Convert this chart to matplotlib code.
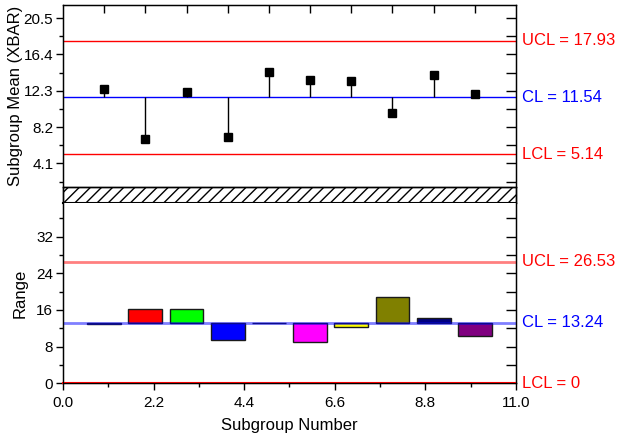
import matplotlib
matplotlib.use("Agg")
import matplotlib.pyplot as plt
from matplotlib.ticker import FixedLocator, FormatStrFormatter
from matplotlib.patches import Rectangle
import matplotlib.transforms as mtransforms

plt.rcParams['font.family'] = ['Liberation Sans', 'DejaVu Sans']

# ---- data ----
subgroups = [1, 2, 3, 4, 5, 6, 7, 8, 9, 10]
xbar_values = [12.49, 6.80, 12.19, 7.03, 14.37, 13.47, 13.39, 9.78, 14.07, 11.96]
range_values = [12.88, 16.16, 16.16, 9.45, 13.10, 8.95, 12.23, 18.91, 14.26, 10.33]
bar_colors = ['#000080', '#FF0000', '#00FF00', '#0000FF', '#000080',
              '#FF00FF', '#FFFF00', '#808000', '#000080', '#800080']

xbar_ucl, xbar_cl, xbar_lcl = 17.93, 11.54, 5.14
r_ucl, r_cl, r_lcl = 26.53, 13.24, 0

x_ticks = [0.0, 2.2, 4.4, 6.6, 8.8, 11.0]
xbar_ticks = [4.1, 8.2, 12.3, 16.4, 20.5]
range_ticks = [0, 8, 16, 24, 32]

# ---- layout ----
W, H = 620, 434
fig = plt.figure(figsize=(W / 100, H / 100), dpi=100)
left_px, right_px = 63, 516


def frac_box(top_px, bottom_px):
    return [left_px / W, 1 - bottom_px / H, (right_px - left_px) / W, (bottom_px - top_px) / H]


ax_top = fig.add_axes(frac_box(5, 187))
ax_band = fig.add_axes(frac_box(187, 203))
ax_bot = fig.add_axes(frac_box(203, 383.3))

for ax in (ax_top, ax_band, ax_bot):
    ax.set_xlim(0, 11)
    for s in ax.spines.values():
        s.set_linewidth(1.0)

# ---- XBAR panel ----
ax_top.set_ylim(1.43, 21.97)
ax_top.spines['bottom'].set_visible(False)
ax_top.axhline(xbar_ucl, color='#FF0000', lw=1.0, zorder=2)
ax_top.axhline(xbar_cl, color='#0000FF', lw=1.0, zorder=2)
ax_top.axhline(xbar_lcl, color='#FF0000', lw=1.0, zorder=2)
ax_top.vlines(subgroups, [xbar_cl] * len(subgroups), xbar_values, color='black', lw=1.0, zorder=3)
ax_top.plot(subgroups, xbar_values, 's', color='black', ms=5.3, zorder=4)

ax_top.yaxis.set_major_locator(FixedLocator(xbar_ticks))
ax_top.yaxis.set_minor_locator(FixedLocator([2.05, 6.15, 10.25, 14.35, 18.45]))
ax_top.yaxis.set_major_formatter(FormatStrFormatter('%.1f'))
ax_top.tick_params(axis='y', which='major', direction='out', length=5, width=1, labelsize=11, pad=2, left=True, right=False)
ax_top.tick_params(axis='y', which='minor', direction='out', length=3, width=1, left=True, right=False)
ax_top.xaxis.set_major_locator(FixedLocator(subgroups))
ax_top.xaxis.set_minor_locator(FixedLocator([]))
ax_top.tick_params(axis='x', which='both', direction='in', length=6, width=1,
                   bottom=False, top=True, labelbottom=False, labeltop=False)

# inner ticks on the right edge
ax_top_r = ax_top.twinx()
ax_top_r.set_ylim(ax_top.get_ylim())
ax_top_r.spines['bottom'].set_visible(False)
ax_top_r.yaxis.set_major_locator(FixedLocator([2.05 * k for k in range(1, 11)]))
ax_top_r.tick_params(axis='y', direction='in', length=7, width=1, labelright=False)

ax_top.set_ylabel('Subgroup Mean (XBAR)', fontsize=12)
ax_top.yaxis.set_label_coords(-0.089, 0.5)

tr_top = mtransforms.blended_transform_factory(ax_top.transAxes, ax_top.transData)
ax_top.text(1.013, xbar_ucl, f'UCL = {xbar_ucl}', color='#FF0000', fontsize=12, va='center', ha='left', transform=tr_top)
ax_top.text(1.013, xbar_cl, f'CL = {xbar_cl}', color='#0000FF', fontsize=12, va='center', ha='left', transform=tr_top)
ax_top.text(1.013, xbar_lcl, f'LCL = {xbar_lcl}', color='#FF0000', fontsize=12, va='center', ha='left', transform=tr_top)

# ---- axis break band ----
ax_band.set_ylim(0, 1)
ax_band.set_xticks([])
ax_band.set_yticks([])
ax_band.add_patch(Rectangle((0, 0), 11, 1, facecolor='white', edgecolor='black',
                            hatch='///', lw=1.0, clip_on=False))
ax_band.spines['bottom'].set_linewidth(1.5)

# ---- Range panel ----
ax_bot.set_ylim(0, 39.34)
ax_bot.spines['top'].set_visible(False)
bar_heights = [v - r_cl for v in range_values]
ax_bot.bar(subgroups, bar_heights, bottom=r_cl, width=0.82, color=bar_colors,
           edgecolor='#1a1a1a', linewidth=1.0, zorder=2)
ax_bot.axhline(r_ucl, color='#FF0000', lw=2.0, alpha=0.5, zorder=3)
ax_bot.axhline(r_cl, color='#0000FF', lw=2.0, alpha=0.5, zorder=3)
ax_bot.axhline(r_lcl, color='#FF0000', lw=1.5, zorder=5, clip_on=False)

ax_bot.yaxis.set_major_locator(FixedLocator(range_ticks))
ax_bot.yaxis.set_minor_locator(FixedLocator([4, 12, 20, 28, 36]))
ax_bot.tick_params(axis='y', which='major', direction='out', length=5, width=1, labelsize=11, pad=2, left=True, right=False)
ax_bot.tick_params(axis='y', which='minor', direction='out', length=3, width=1, left=True, right=False)
ax_bot.xaxis.set_major_locator(FixedLocator(x_ticks))
ax_bot.xaxis.set_minor_locator(FixedLocator([1.1, 3.3, 5.5, 7.7, 9.9]))
ax_bot.xaxis.set_major_formatter(FormatStrFormatter('%.1f'))
ax_bot.tick_params(axis='x', which='major', direction='out', length=5, width=1, labelsize=11, pad=4, top=False)
ax_bot.tick_params(axis='x', which='minor', direction='out', length=3, width=1, top=False)

ax_bot_r = ax_bot.twinx()
ax_bot_r.set_ylim(ax_bot.get_ylim())
ax_bot_r.spines['top'].set_visible(False)
ax_bot_r.yaxis.set_major_locator(FixedLocator([4 * k for k in range(1, 10)]))
ax_bot_r.tick_params(axis='y', direction='in', length=7, width=1, labelright=False)

ax_bot.set_ylabel('Range', fontsize=12)
ax_bot.yaxis.set_label_coords(-0.077, 0.5)
ax_bot.set_xlabel('Subgroup Number', fontsize=12)
ax_bot.xaxis.set_label_coords(0.5, -0.19)

tr_bot = mtransforms.blended_transform_factory(ax_bot.transAxes, ax_bot.transData)
ax_bot.text(1.013, r_ucl, f'UCL = {r_ucl}', color='#FF0000', fontsize=12, va='center', ha='left', transform=tr_bot)
ax_bot.text(1.013, r_cl, f'CL = {r_cl}', color='#0000FF', fontsize=12, va='center', ha='left', transform=tr_bot)
ax_bot.text(1.013, r_lcl, f'LCL = {r_lcl}', color='#FF0000', fontsize=12, va='center', ha='left', transform=tr_bot)

fig.savefig('out.png', dpi=100)
